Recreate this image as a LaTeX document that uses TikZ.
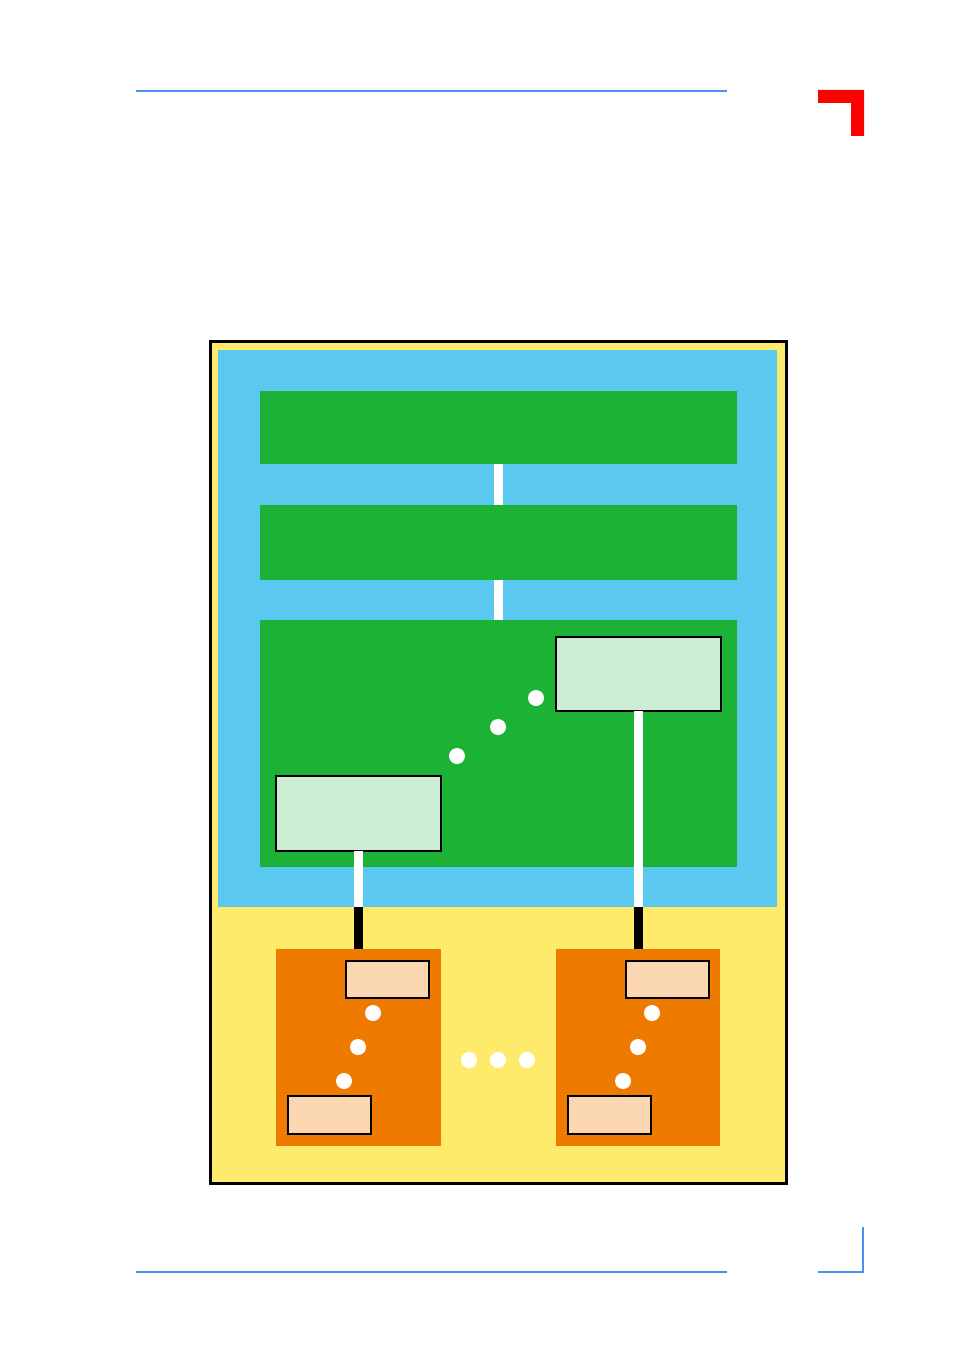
\documentclass[tikz,border=0pt]{standalone}
\usetikzlibrary{calc}
\definecolor{bgyellow}{HTML}{FFEB6B}
\definecolor{skyblue}{HTML}{5BC8F0}
\definecolor{boardgreen}{HTML}{1BB236}
\definecolor{palegreen}{HTML}{CDEED5}
\definecolor{deeporange}{HTML}{EF7A00}
\definecolor{peach}{HTML}{FAD7B0}
\definecolor{ruleblue}{HTML}{4A90F0}
\definecolor{markred}{HTML}{FF0000}
\tikzset{
  box/.style={rectangle, inner sep=0pt, outer sep=0pt, draw=none},
  greenbox/.style={box, fill=boardgreen, minimum width=477pt},
  lightbox/.style={box, fill=palegreen, draw=black, line width=2pt, minimum width=165pt},
  orangebox/.style={box, fill=deeporange, minimum width=165pt, minimum height=197pt},
  peachbox/.style={box, fill=peach, draw=black, line width=1.3pt, minimum width=83pt, minimum height=37pt},
  whitelink/.style={draw=white, line width=9pt},
  blacklink/.style={draw=black, line width=9pt},
  dot/.style={circle, fill=white, inner sep=0pt, minimum size=16pt},
  rule/.style={draw=ruleblue, line width=1.5pt},
}
\begin{document}
\begin{tikzpicture}[x=1pt,y=-1pt]
\useasboundingbox (0,0) rectangle (954,1351);
% header / footer rules
\coordinate (hl) at (136,91); \coordinate (hr) at (727,91);
\draw[rule] (hl) -- (hr);
\coordinate (fl) at (136,1272); \coordinate (fr) at (727,1272);
\draw[rule] (fl) -- (fr);
% red corner mark
\fill[markred] (818,90) -- (864,90) -- (864,136) -- (851,136) -- (851,103) -- (818,103) -- cycle;
% blue bottom corner mark
\draw[draw=ruleblue, line width=1.5pt] (818,1272) -- (862.5,1272);
\draw[draw=ruleblue, line width=2pt] (862.5,1227) -- (862.5,1273);
% outer frame
\node[box, fill=bgyellow, draw=black, line width=2.5pt, minimum width=576pt, minimum height=842pt] (frame) at (498.5,762.5) {};
\node[box, fill=skyblue, minimum width=559pt, minimum height=557pt] (inner) at (497.5,628.5) {};
% green boards
\node[greenbox, minimum height=73pt] (g1) at (498.5,427.5) {};
\node[greenbox, minimum height=75pt] (g2) at (498.5,542.5) {};
\node[greenbox, minimum height=247pt] (g3) at (498.5,743.5) {};
\draw[whitelink] (g1.south) -- (g2.north);
\draw[whitelink] (g2.north |- g2.south) -- (g3.north);
% light boxes
\node[lightbox, minimum height=74pt] (la) at (638.5,674) {};
\node[lightbox, minimum height=75pt] (lb) at (358.5,813.5) {};
\node[dot] (d1) at (536,698) {};
\node[dot] (d2) at (498,727) {};
\node[dot] (d3) at (457,756) {};
% orange boxes
\node[orangebox] (ol) at (358.5,1047.5) {};
\node[orangebox, minimum width=164pt] (or) at (638,1047.5) {};
% connectors
\coordinate (ja) at (la.south |- inner.south);
\coordinate (jb) at (lb.south |- inner.south);
\draw[whitelink] (la.south) -- (ja);
\draw[blacklink] (ja) -- (ja |- or.north);
\draw[whitelink] (lb.south) -- (jb);
\draw[blacklink] (jb) -- (jb |- ol.north);
% peach boxes
\node[peachbox] (plt) at (387.5,979.5) {};
\node[peachbox, minimum height=38pt] (plb) at (329.5,1115) {};
\node[peachbox] (prt) at (667.5,979.5) {};
\node[peachbox, minimum height=38pt] (prb) at (609.5,1115) {};
% dots in orange boxes
\node[dot] (ol1) at (373,1013) {};
\node[dot] (ol2) at (358,1047) {};
\node[dot] (ol3) at (344,1081) {};
\node[dot] (or1) at (652,1013) {};
\node[dot] (or2) at (638,1047) {};
\node[dot] (or3) at (623,1081) {};
% dots between
\node[dot] (m1) at (469,1060) {};
\node[dot] (m2) at (498,1060) {};
\node[dot] (m3) at (527,1060) {};
\end{tikzpicture}
\end{document}
